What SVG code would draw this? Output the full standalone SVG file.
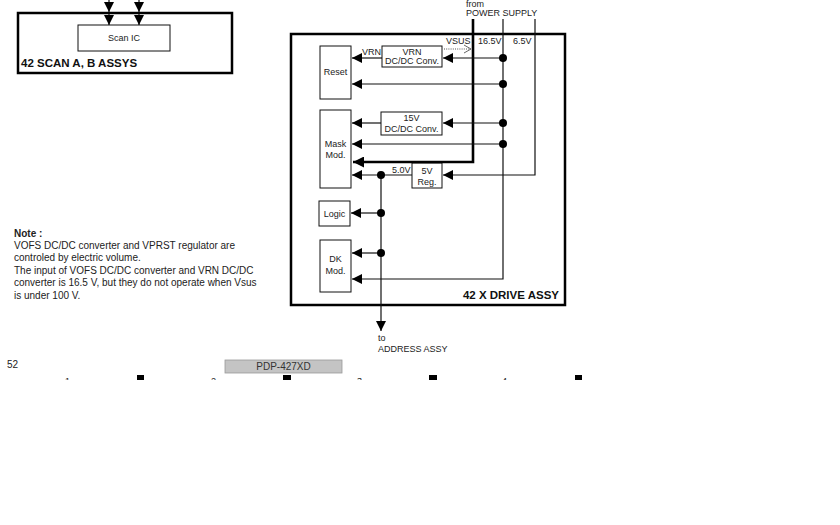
<svg xmlns="http://www.w3.org/2000/svg" width="840" height="525" viewBox="0 0 840 525">
<style>
text{font-family:"Liberation Sans",Arial,sans-serif;fill:#222;}
.s{font-size:9px;}
.n{font-size:10px;}
.b{font-size:11.5px;font-weight:bold;fill:#111;}
.box{fill:#fff;stroke:#111;stroke-width:1;}
.frame{fill:none;stroke:#000;stroke-width:2.5;}
.w{fill:none;stroke:#111;stroke-width:1.2;}
.tk{fill:none;stroke:#000;stroke-width:2.6;}
.dot{fill:#000;}
</style>
<defs>
<marker id="ah" viewBox="0 0 10 10" refX="10" refY="5" markerWidth="10" markerHeight="10" markerUnits="userSpaceOnUse" orient="auto">
<path d="M0,0 L10,5 L0,10 z" fill="#000"/>
</marker>
<marker id="ahb" viewBox="0 0 10 10" refX="10" refY="5" markerWidth="11" markerHeight="11" markerUnits="userSpaceOnUse" orient="auto">
<path d="M0,0 L10,5 L0,10 z" fill="#000"/>
</marker>
<clipPath id="cut"><rect x="0" y="0" width="840" height="380"/></clipPath>
</defs>
<rect width="840" height="525" fill="#fff"/>

<g id="scan-assy">
<rect class="frame" x="18" y="13" width="214" height="60"/>
<text class="b" x="21" y="67">42 SCAN A, B ASSYS</text>
</g>
<g id="scan-ic">
<rect class="box" x="78" y="25" width="92" height="26"/>
<text class="s" x="124" y="41" text-anchor="middle">Scan IC</text>
</g>

<g id="drive-assy">
<rect class="frame" x="291" y="34" width="274" height="271"/>
<text class="b" x="559" y="299" text-anchor="end">42 X DRIVE ASSY</text>
</g>
<g id="reset"><rect class="box" x="320" y="46" width="31" height="53"/><text class="s" x="335.5" y="75" text-anchor="middle">Reset</text></g>
<g id="mask-mod"><rect class="box" x="320" y="110" width="31" height="78"/><text class="s" x="335.5" y="147" text-anchor="middle">Mask</text><text class="s" x="335.5" y="158" text-anchor="middle">Mod.</text></g>
<g id="logic"><rect class="box" x="319" y="201" width="31" height="25"/><text class="s" x="334.5" y="217" text-anchor="middle">Logic</text></g>
<g id="dk-mod"><rect class="box" x="320" y="240" width="31" height="52"/><text class="s" x="335.5" y="262" text-anchor="middle">DK</text><text class="s" x="335.5" y="274" text-anchor="middle">Mod.</text></g>
<g id="vrn-conv"><rect class="box" x="382" y="46" width="60" height="21"/><text class="s" x="412" y="55" text-anchor="middle">VRN</text><text class="s" x="412" y="64" text-anchor="middle">DC/DC Conv.</text></g>
<g id="conv-15v"><rect class="box" x="381" y="112" width="61" height="23"/><text class="s" x="411.5" y="121" text-anchor="middle">15V</text><text class="s" x="411.5" y="132" text-anchor="middle">DC/DC Conv.</text></g>
<g id="reg-5v"><rect class="box" x="412" y="163" width="30" height="25"/><text class="s" x="427" y="174" text-anchor="middle">5V</text><text class="s" x="427" y="185" text-anchor="middle">Reg.</text></g>

<g id="connectors">
<line class="w" x1="109" y1="0" x2="109" y2="12" marker-end="url(#ah)"/>
<line class="w" x1="139" y1="0" x2="139" y2="12" marker-end="url(#ah)"/>
<line class="w" x1="109" y1="14" x2="109" y2="25" marker-end="url(#ah)"/>
<line class="w" x1="139" y1="14" x2="139" y2="25" marker-end="url(#ah)"/>

<polyline class="tk" points="473,19 473,162 353,162" marker-end="url(#ahb)"/>
<polyline class="w" points="503,19 503,279 352,279" marker-end="url(#ah)"/>
<polyline class="w" points="535,19 535,175 443,175" marker-end="url(#ah)"/>

<line class="w" x1="503" y1="58" x2="443" y2="58" marker-end="url(#ah)"/>
<line class="w" x1="382" y1="58" x2="352" y2="58" marker-end="url(#ah)"/>
<line class="w" x1="503" y1="84" x2="352" y2="84" marker-end="url(#ah)"/>
<line class="w" x1="503" y1="123" x2="443" y2="123" marker-end="url(#ah)"/>
<line class="w" x1="381" y1="123" x2="352" y2="123" marker-end="url(#ah)"/>
<line class="w" x1="503" y1="144" x2="352" y2="144" marker-end="url(#ah)"/>
<line class="w" x1="412" y1="175" x2="352" y2="175" marker-end="url(#ah)"/>
<line class="w" x1="381" y1="175" x2="381" y2="331" marker-end="url(#ah)"/>
<line class="w" x1="381" y1="213" x2="351" y2="213" marker-end="url(#ah)"/>
<line class="w" x1="381" y1="253" x2="352" y2="253" marker-end="url(#ah)"/>

<line x1="444" y1="49" x2="470" y2="49" stroke="#555" stroke-width="1" stroke-dasharray="1,1.2"/>
<polyline points="464,45 471,49 464,53" fill="none" stroke="#555" stroke-width="0.9"/>

<circle class="dot" cx="503" cy="58" r="4"/>
<circle class="dot" cx="503" cy="84" r="4"/>
<circle class="dot" cx="503" cy="123" r="4"/>
<circle class="dot" cx="503" cy="144" r="4"/>
<circle class="dot" cx="381" cy="175" r="4"/>
<circle class="dot" cx="381" cy="213" r="4"/>
<circle class="dot" cx="381" cy="253" r="4"/>
</g>

<g id="labels">
<text class="s" x="466" y="7">from</text>
<text class="s" x="466" y="16">POWER SUPPLY</text>
<text class="s" x="446" y="44">VSUS</text>
<text class="s" x="478" y="44">16.5V</text>
<text class="s" x="513" y="44">6.5V</text>
<text class="s" x="362" y="55">VRN</text>
<text class="s" x="392" y="173">5.0V</text>
<text class="s" x="378" y="341">to</text>
<text class="s" x="378" y="352">ADDRESS ASSY</text>
</g>

<g id="note">
<text class="n" x="14" y="237" font-weight="bold">Note :</text>
<text class="n" x="14" y="249">VOFS DC/DC converter and VPRST regulator are</text>
<text class="n" x="14" y="261">controled by electric volume.</text>
<text class="n" x="14" y="274">The input of VOFS DC/DC converter and VRN DC/DC</text>
<text class="n" x="14" y="286">converter is 16.5 V, but they do not operate when Vsus</text>
<text class="n" x="14" y="299">is under 100 V.</text>
</g>

<g id="footer" clip-path="url(#cut)">
<text x="7" y="368" style="font-size:10px">52</text>
<rect x="225" y="360" width="117" height="13" fill="#c4c4c4" stroke="#999" stroke-width="0.8"/>
<text x="283.5" y="369.5" text-anchor="middle" style="font-size:10px;fill:#333">PDP-427XD</text>
<text class="s" x="65" y="384">1</text>
<text class="s" x="211" y="384">2</text>
<text class="s" x="357" y="384">3</text>
<text class="s" x="502" y="384">4</text>
<rect x="137" y="375" width="7" height="5" fill="#000"/>
<rect x="283" y="375" width="8" height="5" fill="#000"/>
<rect x="429" y="375" width="8" height="5" fill="#000"/>
<rect x="575" y="375" width="7" height="5" fill="#000"/>
</g>
</svg>
